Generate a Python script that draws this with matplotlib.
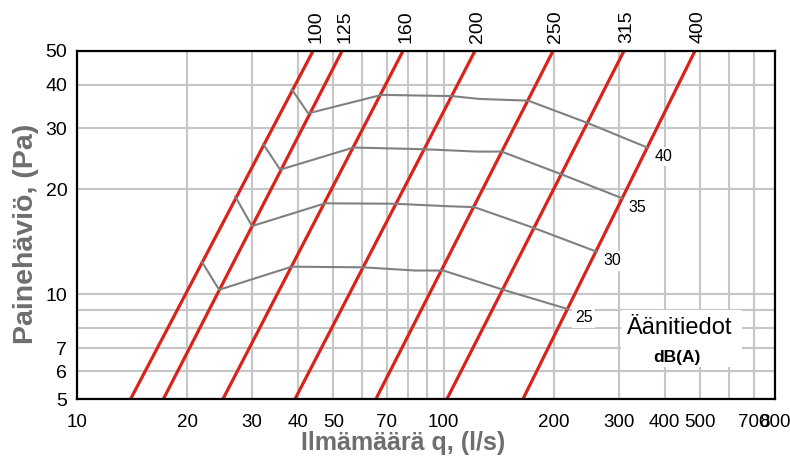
import matplotlib
matplotlib.use("Agg")
import matplotlib.pyplot as plt
from matplotlib.patches import Rectangle

# duct sizes, each line given by its flow (l/s) at 5 Pa and at 50 Pa
duct_sizes = ["100", "125", "160", "200", "250", "315", "400"]
duct_p_ends = [5, 50]
duct_q_at_5 = [14.0, 17.2, 25.0, 39.3, 65.3, 102.0, 164.4]
duct_q_at_50 = [44.0, 52.8, 77.4, 121.6, 198.5, 309.9, 484.0]

# sound level curves, dB(A)
sound_levels = ["25", "30", "35", "40"]
sound_q = [
    [21.9, 24.4, 38.5, 60.3, 83.5, 99.7, 145.3, 217.6],
    [27.0, 30.0, 47.5, 73.6, 102.9, 121.1, 176.2, 261.2],
    [32.2, 35.8, 56.7, 88.9, 123.0, 143.8, 209.6, 305.5],
    [38.5, 42.7, 67.7, 105.1, 125.6, 170.0, 247.7, 358.8],
]
sound_p = [
    [12.4, 10.3, 12.0, 11.95, 11.7, 11.7, 10.3, 9.07],
    [19.1, 15.7, 18.25, 18.2, 17.9, 17.8, 15.5, 13.25],
    [27.0, 22.8, 26.4, 26.1, 25.7, 25.7, 22.1, 18.9],
    [38.8, 33.1, 37.4, 37.1, 36.4, 36.0, 31.0, 26.4],
]

x_labels = [10, 20, 30, 40, 50, 70, 100, 200, 300, 400, 500, 700, 800]
x_grid_only = [60, 80, 90, 600]
y_labels = [5, 6, 7, 10, 20, 30, 40, 50]
y_grid_only = [8, 9]

plain = ["Liberation Sans", "DejaVu Sans"]
label_grey = "#6e6e6e"

fig = plt.figure(figsize=(7.9, 4.59), dpi=100)
ax = fig.add_axes([0.0975, 0.1307, 0.8835, 0.7582])
ax.set_xscale("log")
ax.set_yscale("log")
ax.set_xlim(10, 800)
ax.set_ylim(5, 50)

ax.set_xticks(x_labels)
ax.set_xticklabels([str(v) for v in x_labels], family=plain, fontsize=13.5)
ax.set_xticks(x_grid_only, minor=True)
ax.set_yticks(y_labels)
ax.set_yticklabels([str(v) for v in y_labels], family=plain, fontsize=14)
ax.set_yticks(y_grid_only, minor=True)
ax.tick_params(axis="both", which="both", length=0)
ax.tick_params(axis="x", pad=11)
ax.tick_params(axis="y", pad=7)
ax.grid(True, which="both", color="#c6c6c6", linewidth=1.5)
ax.set_axisbelow(True)
for s in ax.spines.values():
    s.set_linewidth(1.6)
    s.set_color("black")

# duct lines (red) with size labels above the frame
for size, q0, q1 in zip(duct_sizes, duct_q_at_5, duct_q_at_50):
    ax.plot([q0, q1], duct_p_ends, color="#d8231b", lw=2.3, zorder=2)
    ax.annotate(size, xy=(q1, 50), xytext=(3, 8), textcoords="offset pixels",
                rotation=90, ha="center", va="bottom", family=plain,
                fontsize=14, annotation_clip=False)

# sound level curves (grey)
for lev, qs, ps in zip(sound_levels, sound_q, sound_p):
    ax.plot(qs, ps, color="#808080", lw=1.5, zorder=3)
    ax.annotate(lev, xy=(qs[-1], ps[-1]), xytext=(16, -9), textcoords="offset pixels",
                ha="center", va="center", family=plain, fontsize=11.5, zorder=4,
                bbox=dict(boxstyle="square,pad=0.15", fc="white", ec="none"))

# legend box
ax.add_patch(Rectangle((0.779, 0.092), 0.174, 0.164, transform=ax.transAxes,
                       facecolor="white", edgecolor="none", zorder=4))
ax.text(0.864, 0.204, "Äänitiedot", transform=ax.transAxes, ha="center", va="center",
        family=plain, fontsize=17, zorder=5)
ax.text(0.860, 0.118, "dB(A)", transform=ax.transAxes, ha="center", va="center",
        family=plain, fontsize=12.5, fontweight="bold", zorder=5)

fig.text(0.033, 0.49, "Painehäviö, (Pa)", rotation=90, ha="center", va="center",
         family=plain, fontsize=20.5, fontweight="bold", color=label_grey)
fig.text(0.510, 0.034, "Ilmämäärä q, (l/s)", ha="center", va="center",
         family=plain, fontsize=18, fontweight="bold", color=label_grey)

fig.savefig("out.png", dpi=100)
